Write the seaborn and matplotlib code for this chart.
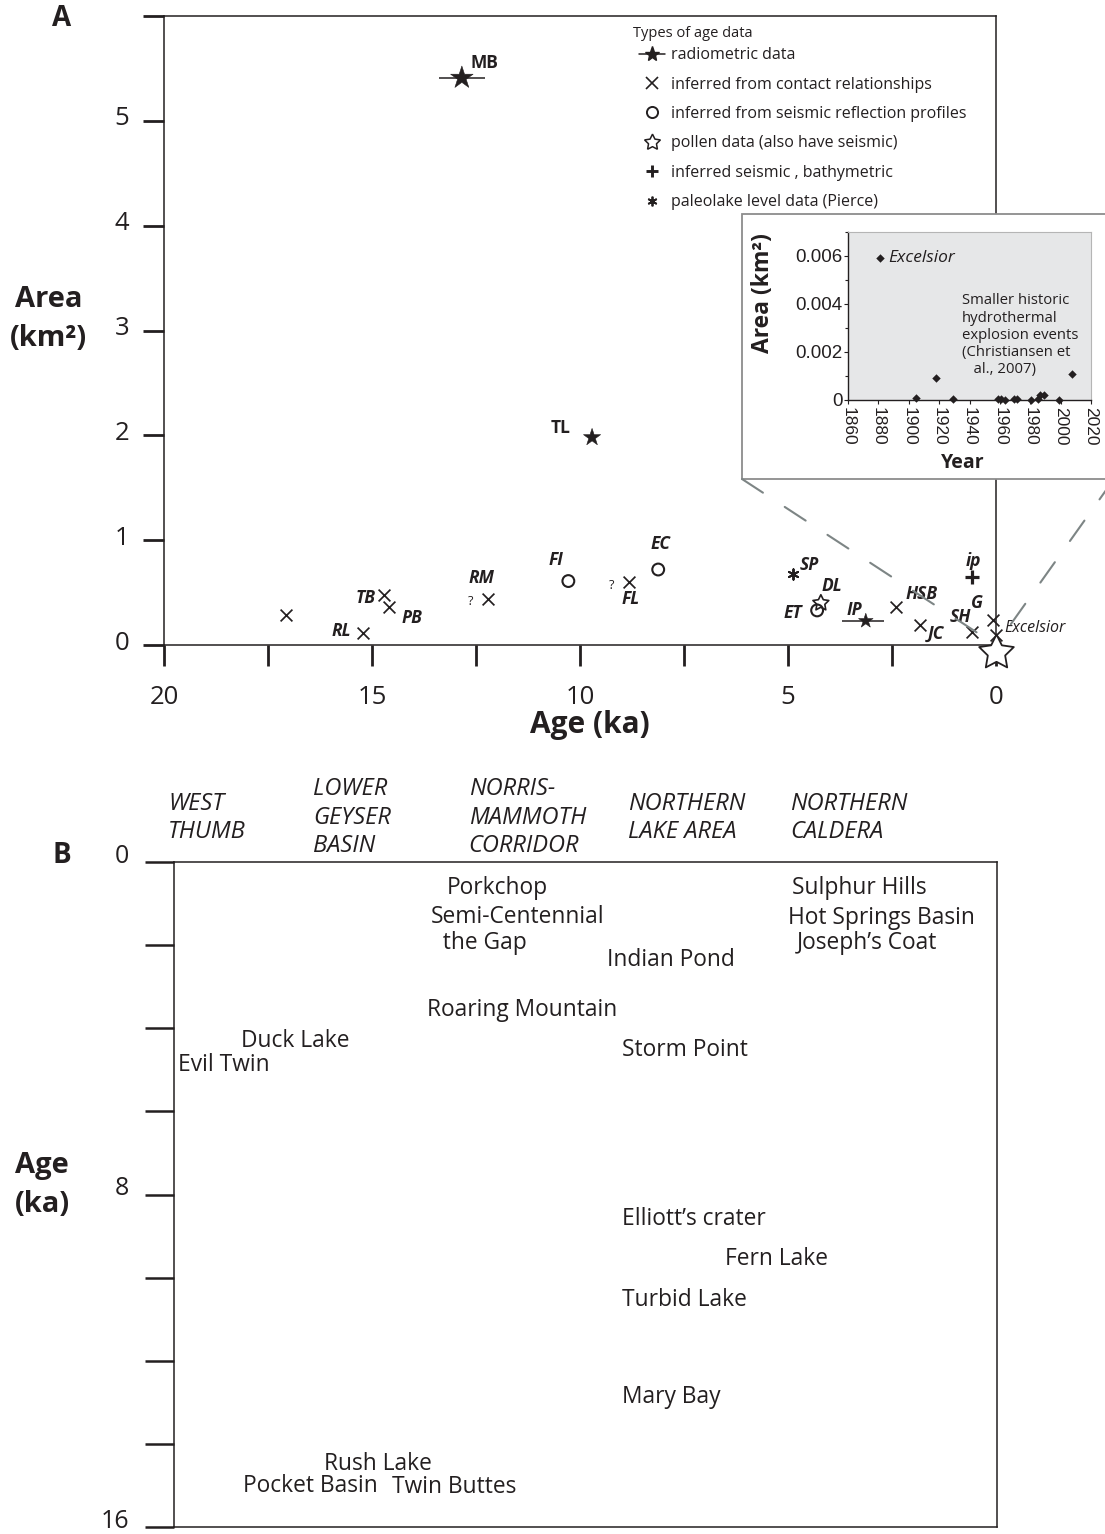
import matplotlib
matplotlib.use("Agg")
import matplotlib.pyplot as plt
from matplotlib.lines import Line2D
from matplotlib.patches import Rectangle, ConnectionPatch
from matplotlib.ticker import MultipleLocator
from matplotlib.transforms import ScaledTranslation
from matplotlib import font_manager
from matplotlib.path import Path
import numpy as np
import pandas as pd
import seaborn as sns

# ---------------------------------------------------------------- data
# Panel A: explosion crater area against age, by type of age control
site_code = ["MB", "TL", "", "RL", "TB", "PB", "RM", "FI", "FL", "EC",
             "SP", "DL", "ET", "IP", "HSB", "JC", "SH", "G", "ip", "Excelsior"]
site_age_ka = [12.84, 9.71, 17.07, 15.21, 14.70, 14.58, 12.20, 10.28, 8.82, 8.12,
               4.87, 4.21, 4.30, 3.13, 2.41, 1.83, 0.57, 0.07, 0.57, 0.0]
site_area_km2 = [5.41, 1.98, 0.29, 0.11, 0.48, 0.36, 0.44, 0.61, 0.60, 0.72,
                 0.68, 0.40, 0.33, 0.23, 0.36, 0.19, 0.12, 0.24, 0.65, 0.095]
site_dating = ["radiometric", "radiometric", "contact", "contact", "contact", "contact",
               "contact", "seismic", "contact", "seismic", "paleolake", "pollen",
               "seismic", "radiometric", "contact", "contact", "contact", "contact",
               "bathymetric", "contact"]

# radiometric age uncertainty (ka), younger side / older side
radiometric_code = ["MB", "TL", "IP"]
radiometric_err_young = [0.55, 0.0, 0.43]
radiometric_err_old = [0.55, 0.0, 0.58]

# sites with a queried age assignment
queried_code = ["RM", "FL"]

# historic explosions (Christiansen et al., 2007)
historic_year = [1881, 1905, 1918, 1929, 1958.5, 1960.5, 1963.6, 1969.3, 1971,
                 1980.5, 1985.3, 1986.4, 1989, 1999, 2007.3]
historic_area_km2 = [0.0059, 0.0001, 0.0009, 0.00003, 0.00003, 0.00003, 0.0, 0.00003,
                     0.00003, 0.0, 0.00003, 0.0002, 0.0002, 0.0, 0.0011]
excelsior_age_ka = 0.0

legend_title = "Types of age data"
legend_labels = ["radiometric data", "inferred from contact relationships",
                 "inferred from seismic reflection profiles",
                 "pollen data (also have seismic)", "inferred seismic , bathymetric",
                 "paleolake level data (Pierce)"]

# Panel B: craters by region and age
region_names = ["WEST\nTHUMB", "LOWER\nGEYSER\nBASIN", "NORRIS-\nMAMMOTH\nCORRIDOR",
                "NORTHERN\nLAKE AREA", "NORTHERN\nCALDERA"]
crater_names = ["Evil Twin", "Duck Lake",
                "Pocket Basin", "Rush Lake", "Twin Buttes",
                "Porkchop", "Semi-Centennial", "  the Gap", "Roaring Mountain",
                "Indian Pond", "Storm Point", "Elliott\u2019s crater", "Fern Lake",
                "Turbid Lake", "Mary Bay",
                "Sulphur Hills", "Hot Springs Basin", "Joseph\u2019s Coat"]
crater_age_ka = [4.81, 4.23,
                 14.94, 14.41, 14.97,
                 0.55, 1.25, 1.88, 3.49,
                 2.29, 4.45, 8.52, 9.48, 10.47, 12.80,
                 0.55, 1.28, 1.88]

# ---------------------------------------------------------------- layout
W, H = 1105, 1534
ink = "#231f20"

# label offsets from their marker, pixels (right, up)
label_offset = {"MB": (23, 15), "TL": (-32, 9), "RL": (-22, 2), "TB": (-19, -3),
                "PB": (23, -11), "RM": (-7, 21), "FI": (-12, 21), "FL": (2, -17),
                "EC": (2, 26), "SP": (16, 9), "DL": (11, 17), "ET": (-24, -3),
                "IP": (-11, 11), "HSB": (26, 13), "JC": (16, -9), "SH": (-12, 15),
                "G": (-16, 17), "ip": (1, 16)}
upright_codes = {"MB", "TL"}
radiometric_size = {"MB": 17, "TL": 13, "IP": 11}

# panel B: label x positions (percent of panel width)
crater_x = [0.5, 8.1,
            8.4, 18.2, 26.5,
            33.1, 31.2, 31.2, 30.8,
            52.6, 54.4, 54.4, 66.9, 54.4, 54.4,
            75.1, 74.6, 75.7]
region_x = [-0.7, 16.9, 35.8, 55.2, 74.9]


def fig_rect(x0, y0, x1, y1):
    """pixel box (top-left origin) -> figure-fraction rectangle"""
    return [x0 / W, 1 - y1 / H, (x1 - x0) / W, (y1 - y0) / H]


sns.set_theme(style="ticks")
plt.rcParams["font.family"] = ["Open Sans", "DejaVu Sans"]
plt.rcParams.update({"text.color": ink, "axes.edgecolor": ink, "axes.labelcolor": ink,
                     "xtick.color": ink, "ytick.color": ink})

installed = {f.name for f in font_manager.fontManager.ttflist}
narrow = ["Liberation Sans Narrow", "Open Sans"] if "Liberation Sans Narrow" in installed else ["Open Sans"]
arial_like = ["Liberation Sans", "DejaVu Sans"]

fig = plt.figure(figsize=(W / 100, H / 100), dpi=100)


def nudge_up(axis_obj, px):
    """shift the tick labels of an axis upward by a few pixels"""
    off = ScaledTranslation(0, px / 100, fig.dpi_scale_trans)
    for lab in axis_obj.get_ticklabels():
        lab.set_transform(lab.get_transform() + off)


# ================================================================ panel A
ax = fig.add_axes(fig_rect(164, 16, 996, 645))
sites = pd.DataFrame({"code": site_code, "age": site_age_ka, "area": site_area_km2,
                      "dating": site_dating})

ax.set_xlim(20, 0)
ax.set_ylim(0, 6)

rad = sites[sites.dating == "radiometric"]
rad_err = pd.DataFrame({"code": radiometric_code, "young": radiometric_err_young,
                        "old": radiometric_err_old}).set_index("code").loc[rad.code]
ax.errorbar(rad.age, rad.area, xerr=[rad_err.young, rad_err.old], fmt="none",
            ecolor=ink, elinewidth=1.1, capsize=0, zorder=3)
sns.scatterplot(x=rad.age, y=rad.area, marker="*",
                s=[radiometric_size[c] ** 2 for c in rad.code],
                color=ink, edgecolor=ink, linewidth=0.4, ax=ax, zorder=4, legend=False)

cont = sites[sites.dating == "contact"]
sns.scatterplot(x=cont.age, y=cont.area, marker="x", s=8.5 ** 2, color=ink,
                linewidth=1.25, ax=ax, clip_on=False, zorder=4, legend=False)

seis = sites[sites.dating == "seismic"]
sns.scatterplot(x=seis.age, y=seis.area, marker="o", s=8.5 ** 2, color=ink,
                facecolor="none", edgecolor=ink, linewidth=1.5, ax=ax, zorder=4, legend=False)

pol = sites[sites.dating == "pollen"]
sns.scatterplot(x=pol.age, y=pol.area, marker=(5, 1, 0), s=12 ** 2, color=ink,
                facecolor="none", edgecolor=ink, linewidth=1.2, ax=ax, zorder=4, legend=False)

bat = sites[sites.dating == "bathymetric"]
sns.scatterplot(x=bat.age, y=bat.area, marker="+", s=9.5 ** 2, color=ink,
                linewidth=2.3, ax=ax, zorder=4, legend=False)

pal = sites[sites.dating == "paleolake"]
sns.scatterplot(x=pal.age, y=pal.area, marker=(6, 2, 0), s=7.5 ** 2, color=ink,
                linewidth=1.4, ax=ax, zorder=4, legend=False)

# Excelsior (historic) open star, hanging below its plotting point
star = Path.unit_regular_star(5, 0.5)
star = Path(star.vertices + np.array([0.0, -0.45]), star.codes)
sns.scatterplot(x=[excelsior_age_ka], y=[historic_area_km2[0]], marker=star, s=33 ** 2,
                color=ink, facecolor="white", edgecolor=ink, linewidth=1.3,
                ax=ax, clip_on=False, zorder=5, legend=False)

# crater code labels
for row in sites.itertuples():
    if row.code in label_offset:
        dx, dy = label_offset[row.code]
        ax.annotate(row.code, (row.age, row.area), xytext=(dx, dy),
                    textcoords="offset pixels", ha="center", va="center",
                    fontsize=12.5, fontweight="bold",
                    fontstyle="normal" if row.code in upright_codes else "italic",
                    zorder=6, annotation_clip=False)
exc = sites[sites.code == "Excelsior"].iloc[0]
ax.annotate("Excelsior", (exc.age, exc.area), xytext=(8, 7), textcoords="offset pixels",
            ha="left", va="center", fontsize=11.5, fontstyle="italic",
            annotation_clip=False, zorder=6)
for code in queried_code:
    r = sites[sites.code == code].iloc[0]
    ax.annotate("?", (r.age, r.area), xytext=(-18, -3), textcoords="offset pixels",
                ha="center", va="center", fontsize=9)

ax.set_xticks(np.arange(0, 20.01, 2.5))
ax.set_xticklabels([f"{v:g}" if v % 5 == 0 else "" for v in np.arange(0, 20.01, 2.5)])
ax.set_yticks(np.arange(0, 7))
ax.set_yticklabels([f"{v}" if v < 6 else "" for v in range(7)])
ax.tick_params(axis="both", direction="out", length=15, width=2.0, labelsize=18.5)
ax.tick_params(axis="x", pad=14)
ax.tick_params(axis="y", pad=10)
for sp in ax.spines.values():
    sp.set_linewidth(1.1)
    sp.set_color(ink)

ax.set_xlabel("Age (ka)", fontsize=21.5, fontweight="bold", va="center")
ax.xaxis.set_label_coords(0.512, -0.127)
ax.set_ylabel("Area\n(km\u00b2)", fontsize=21, fontweight="bold", rotation=0,
              ha="center", va="center", linespacing=1.45)
ax.yaxis.set_label_coords(-0.139, 0.518)

handles = [
    Line2D([], [], color=ink, marker="*", markersize=11, lw=1.1),
    Line2D([], [], color=ink, marker="x", markersize=8, mew=1.2, ls="none"),
    Line2D([], [], color=ink, marker="o", markersize=8, mfc="none", mew=1.4, ls="none"),
    Line2D([], [], color=ink, marker=(5, 1, 0), markersize=12, mfc="none", mew=1.1, ls="none"),
    Line2D([], [], color=ink, marker="+", markersize=9, mew=2.1, ls="none"),
    Line2D([], [], color=ink, marker=(6, 2, 0), markersize=7, mew=1.3, ls="none"),
]
ax.legend(handles, legend_labels, loc="upper left",
          bbox_to_anchor=(0.571, 0.9505), frameon=False, fontsize=11.5,
          handlelength=1.6, handletextpad=0.4, labelspacing=0.84, borderpad=0,
          borderaxespad=0)
ax.text(0.5637, 0.9714, legend_title, transform=ax.transAxes, ha="left", va="center",
        fontsize=10.5)

fig.text(62 / W, 1 - 18 / H, "A", fontsize=20, fontweight="bold", ha="center", va="center")

# ---------------------------------------------------------------- inset
frame = Rectangle((742 / W, 1 - 479 / H), (1125 - 742) / W, (479 - 214) / H,
                  transform=fig.transFigure, facecolor="white", edgecolor="#8c8c8c",
                  lw=1.3, zorder=2)
fig.add_artist(frame)
for cx in (742, 1114):
    con = ConnectionPatch(xyA=(cx, H - 479), coordsA="figure pixels",
                          xyB=(excelsior_age_ka, 0.0), coordsB=ax.transData,
                          color="#7d8585", lw=1.5, linestyle=(0, (12, 12.5)), zorder=2.5)
    fig.add_artist(con)

axin = fig.add_axes(fig_rect(848, 232, 1091, 400))
axin.set_zorder(3)
axin.set_facecolor("#e6e7e8")
sns.scatterplot(x=historic_year, y=historic_area_km2, marker="D", s=4.3 ** 2,
                color=ink, edgecolor=ink, linewidth=0, clip_on=False, ax=axin,
                zorder=4, legend=False)
axin.set_xlim(1860, 2020)
axin.set_ylim(0, 0.007)
axin.set_xticks(range(1860, 2021, 20))
axin.set_xticklabels([str(v) for v in range(1860, 2021, 20)], rotation=-90,
                     ha="center", va="top", fontsize=12.5, fontfamily=arial_like)
axin.set_yticks([0, 0.002, 0.004, 0.006])
axin.set_yticklabels(["0", "0.002", "0.004", "0.006"], fontsize=13.5, fontfamily=arial_like)
axin.yaxis.set_minor_locator(MultipleLocator(0.001))
axin.tick_params(axis="both", which="both", direction="out", length=3, width=0.8, pad=1)
axin.tick_params(axis="y", which="minor", length=2)
axin.tick_params(axis="x", pad=2)
for side in ("left", "bottom"):
    axin.spines[side].set_color(ink)
    axin.spines[side].set_linewidth(1.0)
for side in ("top", "right"):
    axin.spines[side].set_color("#b5b5b5")
    axin.spines[side].set_linewidth(0.8)
axin.annotate("Excelsior", (historic_year[0], historic_area_km2[0]), xytext=(8, 0),
              textcoords="offset pixels", ha="left", va="center", fontsize=12.5,
              fontstyle="italic")
axin.text(0.469, 0.635,
          "Smaller historic\nhydrothermal\nexplosion events\n(Christiansen et\n   al., 2007)",
          transform=axin.transAxes, ha="left", va="top", fontsize=10.7, linespacing=1.2)
axin.set_ylabel("Area (km\u00b2)", fontsize=16.5, fontweight="bold", va="center")
axin.yaxis.set_label_coords(-0.35, 0.637)
axin.set_xlabel("Year", fontsize=14, fontweight="bold", va="center")
axin.xaxis.set_label_coords(0.473, -0.375)

# ================================================================ panel B
bx = fig.add_axes(fig_rect(174, 862, 997, 1527))
bx.set_xlim(0, 100)
bx.set_ylim(16, 0)
bx.set_xticks([])
bx.set_yticks(np.arange(0, 17, 2))
bx.set_yticklabels([f"{v}" if v % 8 == 0 else "" for v in range(0, 17, 2)])
bx.tick_params(axis="y", direction="out", length=21, width=1.8, labelsize=18, pad=11.5)
for sp in bx.spines.values():
    sp.set_linewidth(1.1)
    sp.set_color(ink)

for name, xpos, age in zip(crater_names, crater_x, crater_age_ka):
    bx.text(xpos, age, name, ha="left", va="center_baseline", fontsize=16.4)

hdr_tf = bx.get_xaxis_transform()
for name, xpos in zip(region_names, region_x):
    bx.text(xpos, 1.0662, name, transform=hdr_tf, ha="left", va="center",
            fontsize=17, fontstyle="italic", fontfamily=narrow, linespacing=1.25,
            clip_on=False)

bx.set_ylabel("Age\n(ka)", fontsize=21, fontweight="bold", rotation=0,
              ha="center", va="center", linespacing=1.45)
bx.yaxis.set_label_coords(-0.160, 0.514)

fig.text(62 / W, 1 - 855 / H, "B", fontsize=20, fontweight="bold", ha="center", va="center")

nudge_up(ax.yaxis, 5)
nudge_up(bx.yaxis, 9)

fig.savefig("out.png", dpi=100)
